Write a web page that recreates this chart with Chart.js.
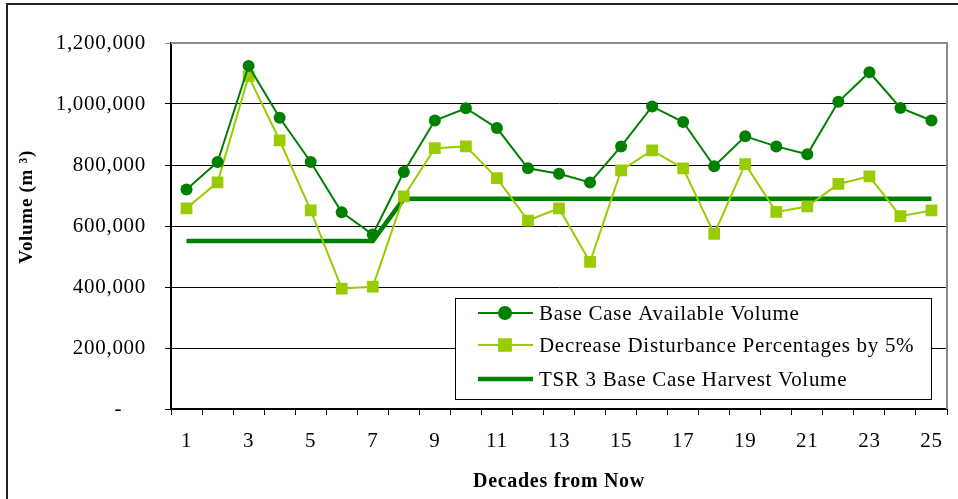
<!DOCTYPE html>
<html>
<head>
<meta charset="utf-8">
<script src="https://cdn.jsdelivr.net/npm/chart.js@4/dist/chart.umd.min.js"></script>
<style>
  html, body { margin: 0; padding: 0; background: #fff; }
  #wrap { width: 958px; height: 499px; position: relative; }
</style>
</head>
<body>
<div id="wrap"><canvas id="myChart"></canvas></div>
<script>
// decades 1..25
var decades = [];
for (var d = 1; d <= 25; d++) decades.push(String(d));

var baseCase = [720000, 810000, 1125000, 955000, 810000, 645000, 572000, 777000, 946000, 986000,
    921000, 789000, 771000, 743000, 861000, 992000, 941000, 796000, 894000, 861000,
    835000, 1007000, 1104000, 987000, 946000];
var decreaseDist = [658000, 743000, 1091000, 881000, 651000, 395000, 401000, 697000, 855000, 861000,
    757000, 618000, 658000, 482000, 782000, 848000, 789000, 574000, 803000, 646000,
    664000, 738000, 763000, 632000, 651000];
var tsrHarvest = [551000, 551000, 551000, 551000, 551000, 551000, 551000, 689000, 689000, 689000,
    689000, 689000, 689000, 689000, 689000, 689000, 689000, 689000, 689000, 689000,
    689000, 689000, 689000, 689000, 689000];

var seriesNames = [
    "Base Case Available Volume",
    "Decrease Disturbance Percentages by 5%",
    "TSR 3 Base Case Harvest Volume"
];

var darkGreen = "#008000";
var lightGreen = "#99cc00";
var serif = "'Liberation Serif', 'Times New Roman', serif";

// frame, plot border and the boxed legend inside the plot
var decorPlugin = {
    id: 'decor',
    beforeDraw: function (chart) {
        var ctx = chart.ctx;
        ctx.save();
        ctx.fillStyle = '#fff';
        ctx.fillRect(0, 0, chart.width, chart.height);
        ctx.restore();
        // text in the original is spaced out a little
        ctx.letterSpacing = '0.7px';
    },
    afterDatasetsDraw: function (chart) {
        var ctx = chart.ctx;
        var a = chart.chartArea;
        ctx.save();
        // outer frame (cut off right and bottom)
        ctx.strokeStyle = '#222';
        ctx.lineWidth = 2;
        ctx.strokeRect(7, 4, 1000, 1000);
        // gray top/right border of plot area
        ctx.strokeStyle = '#8c8c8c';
        ctx.lineWidth = 2;
        ctx.beginPath();
        ctx.moveTo(a.left, a.top);
        ctx.lineTo(a.right, a.top);
        ctx.lineTo(a.right, a.bottom);
        ctx.stroke();

        // legend box
        var bx = 455.5, by = 298.5, bw = 476, bh = 101;
        ctx.fillStyle = '#fff';
        ctx.fillRect(bx, by, bw, bh);
        ctx.strokeStyle = '#000';
        ctx.lineWidth = 1;
        ctx.strokeRect(bx, by, bw, bh);

        var rows = [313, 345, 379];
        ctx.font = '21px ' + serif;
        ctx.textBaseline = 'middle';
        ctx.textAlign = 'left';
        chart.data.datasets.forEach(function (ds, i) {
            var y = rows[i];
            ctx.strokeStyle = ds.borderColor;
            ctx.lineWidth = ds.borderWidth;
            ctx.beginPath();
            ctx.moveTo(478, y);
            ctx.lineTo(533, y);
            ctx.stroke();
            if (ds.pointRadius > 0) {
                Chart.helpers.drawPoint(ctx, {
                    pointStyle: ds.pointStyle,
                    radius: ds.pointRadius,
                    borderWidth: 1
                }, 505, y);
                ctx.fillStyle = ds.pointBackgroundColor;
                ctx.fill();
            }
            ctx.fillStyle = '#000';
            ctx.fillText(ds.label, 539, y + 1);
        });
        ctx.restore();
    }
};

new Chart("myChart", {
    type: "line",
    data: {
        labels: decades,
        datasets: [{
            label: seriesNames[0],
            data: baseCase,
            borderColor: darkGreen,
            backgroundColor: darkGreen,
            pointBackgroundColor: darkGreen,
            pointBorderColor: darkGreen,
            borderWidth: 2,
            pointStyle: 'circle',
            pointRadius: 6,
            pointBorderWidth: 0,
            tension: 0
        }, {
            label: seriesNames[1],
            data: decreaseDist,
            borderColor: lightGreen,
            backgroundColor: lightGreen,
            pointBackgroundColor: lightGreen,
            pointBorderColor: lightGreen,
            borderWidth: 2,
            pointStyle: 'rect',
            pointRadius: 8.3,
            pointBorderWidth: 0,
            tension: 0
        }, {
            label: seriesNames[2],
            data: tsrHarvest,
            borderColor: darkGreen,
            backgroundColor: darkGreen,
            borderWidth: 4.5,
            pointRadius: 0,
            tension: 0
        }]
    },
    options: {
        responsive: true,
        maintainAspectRatio: false,
        animation: false,
        layout: { padding: { left: 0, top: 43, right: 11, bottom: 0 } },
        plugins: {
            legend: { display: false },
            tooltip: { enabled: false }
        },
        scales: {
            x: {
                offset: true,
                afterFit: function (scale) { scale.height = 90; },
                grid: {
                    offset: true,
                    drawOnChartArea: false,
                    drawTicks: true,
                    tickLength: 6,
                    color: '#000',
                    lineWidth: 1
                },
                border: { color: '#000', width: 2 },
                ticks: {
                    autoSkip: false,
                    maxRotation: 0,
                    padding: 14,
                    color: '#000',
                    font: { family: serif, size: 21 },
                    callback: function (v, i) { return i % 2 === 0 ? this.getLabelForValue(v) : ''; }
                },
                title: {
                    display: true,
                    text: 'Decades from Now',
                    color: '#000',
                    font: { family: serif, size: 20, weight: 'bold' },
                    padding: { top: 0, bottom: 5 }
                }
            },
            y: {
                min: 0,
                max: 1200000,
                afterFit: function (scale) { scale.width = 171; },
                grid: {
                    drawTicks: true,
                    tickLength: 6,
                    color: function (c) { return c.tick && c.tick.value === 1200000 ? '#8c8c8c' : '#000'; },
                    lineWidth: 1
                },
                border: { color: '#000', width: 2 },
                ticks: {
                    stepSize: 200000,
                    padding: 19,
                    color: '#000',
                    font: { family: serif, size: 21 },
                    callback: function (v) { return v === 0 ? '-    ' : v.toLocaleString('en-US'); }
                },
                title: {
                    display: true,
                    text: '       Volume (m ³)',
                    color: '#000',
                    font: { family: serif, size: 19, weight: 'bold' },
                    padding: { top: 16, bottom: 0 }
                }
            }
        }
    },
    plugins: [decorPlugin]
});
</script>
</body>
</html>
